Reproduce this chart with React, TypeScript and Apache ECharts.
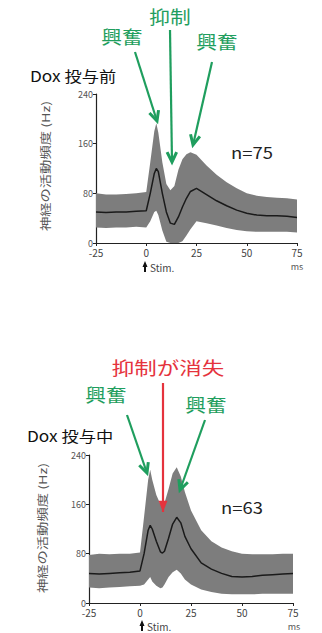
import React, { useEffect, useRef } from "react";
import * as echarts from "echarts";

// ---- Data: before Dox ----
const timeBefore = [-25, -20, -15, -10, -5, 0, 2, 4, 5, 6, 8, 10, 12, 14, 16, 18, 20, 22, 25, 30, 35, 40, 45, 50, 55, 60, 65, 70, 75];
const meanBefore = [50, 49, 50, 50, 51, 52, 80, 112, 120, 115, 80, 50, 32, 30, 42, 58, 72, 83, 88, 78, 68, 60, 53, 48, 45, 44, 44, 43, 41];
const upperBefore = [80, 78, 78, 79, 80, 82, 130, 180, 193, 178, 130, 95, 85, 92, 118, 135, 143, 146, 142, 125, 110, 98, 88, 80, 76, 74, 73, 72, 70];
const lowerBefore = [25, 24, 25, 25, 26, 25, 35, 50, 52, 45, 20, 2, 0, 0, 0, 3, 12, 22, 35, 32, 28, 24, 21, 19, 18, 18, 18, 18, 17];

// ---- Data: during Dox ----
const timeDuring = [-25, -20, -15, -10, -5, 0, 2, 4, 5, 6, 8, 10, 11, 12, 14, 16, 18, 20, 22, 25, 30, 35, 40, 45, 50, 55, 60, 65, 70, 75];
const meanDuring = [48, 47, 48, 49, 50, 52, 80, 118, 126, 120, 100, 83, 81, 84, 105, 128, 139, 130, 108, 88, 65, 55, 48, 43, 42, 43, 45, 46, 47, 48];
const upperDuring = [78, 80, 79, 80, 80, 82, 140, 200, 216, 200, 175, 160, 157, 162, 185, 210, 220, 205, 180, 150, 118, 100, 90, 84, 80, 79, 79, 79, 80, 80];
const lowerDuring = [25, 24, 25, 26, 27, 28, 30, 38, 42, 35, 28, 24, 25, 30, 42, 50, 54, 48, 38, 30, 22, 18, 15, 14, 14, 14, 15, 15, 15, 15];

const xTicks = { min: -25, max: 75, interval: 25 };
const yTicks = { min: 0, max: 240, interval: 80 };

const GREEN = "#1f9e5e";
const RED = "#e5333d";
const FONT = "'Noto Sans CJK JP', 'Noto Sans', sans-serif";

function pairs(t: number[], v: number[]) {
  return t.map((x, i) => [x, v[i]]);
}

function bandSeries(idx: number, t: number[], mean: number[], up: number[], lo: number[]) {
  return [
    {
      type: "custom", xAxisIndex: idx, yAxisIndex: idx, silent: true,
      data: t.map((x, i) => [x, lo[i], up[i]]),
      encode: { x: 0, y: [1, 2] },
      renderItem: (params: any, api: any) => {
        if (params.dataIndex !== 0) return null;
        const top = t.map((x, i) => api.coord([x, up[i]]));
        const bot = t.map((x, i) => api.coord([x, lo[i]])).reverse();
        return { type: "polygon", shape: { points: [...top, ...bot] }, style: { fill: "#7d7d7d" } };
      },
      z: 1,
    },
    {
      type: "line", xAxisIndex: idx, yAxisIndex: idx, symbol: "none", silent: true, z: 3,
      lineStyle: { color: "#1a1a1a", width: 1.5 }, data: pairs(t, mean),
    },
  ];
}

function axisX(gridIndex: number) {
  return {
    type: "value", gridIndex, ...xTicks,
    axisLine: { onZero: false, lineStyle: { color: "#222", width: 1.2 } },
    axisTick: { show: true, length: 3, lineStyle: { color: "#222" } },
    axisLabel: { fontSize: 10, color: "#444", margin: 4, fontFamily: FONT },
    splitLine: { show: false },
  };
}
function axisY(gridIndex: number) {
  return {
    type: "value", gridIndex, ...yTicks,
    axisLine: { show: true, onZero: false, lineStyle: { color: "#222", width: 1.2 } },
    axisTick: { show: true, length: 3, lineStyle: { color: "#222" } },
    axisLabel: { fontSize: 9, color: "#555", margin: 3, fontFamily: FONT },
    splitLine: { show: false },
  };
}

function arrow(x1: number, y1: number, x2: number, y2: number, color: string, filled = false) {
  const ang = Math.atan2(y2 - y1, x2 - x1);
  const L = filled ? 12 : 11;
  const W = filled ? 0.38 : 0.45;
  const p1 = [x2 - L * Math.cos(ang - W), y2 - L * Math.sin(ang - W)];
  const p2 = [x2 - L * Math.cos(ang + W), y2 - L * Math.sin(ang + W)];
  const items: any[] = [
    { type: "line", shape: { x1, y1, x2, y2 }, style: { stroke: color, lineWidth: 2.2 }, silent: true, z: 10 },
  ];
  if (filled) {
    items.push({ type: "polygon", shape: { points: [p1, [x2, y2], p2] }, style: { fill: color }, silent: true, z: 10 });
  } else {
    items.push({ type: "polyline", shape: { points: [p1, [x2, y2], p2] }, style: { stroke: color, lineWidth: 3, fill: null }, silent: true, z: 10 });
  }
  return items;
}

function txt(text: string, x: number, y: number, size: number, color: string, opts: any = {}) {
  return {
    type: "text", x, y, silent: true, scaleX: opts.scaleX ?? 1, rotation: opts.rotation ?? 0, z: 10,
    style: {
      text, fill: color, fontSize: size, fontFamily: FONT, fontWeight: opts.weight ?? "normal",
      textAlign: opts.align ?? "center", textVerticalAlign: "middle",
    },
  };
}

function stimMark(x: number, y: number) {
  return [
    { type: "polygon", shape: { points: [[x, y - 6], [x - 2.5, y], [x - 1, y], [x - 1, y + 5], [x + 1, y + 5], [x + 1, y], [x + 2.5, y]] }, style: { fill: "#111" }, silent: true },
    txt("Stim.", x + 5, y, 10, "#444", { align: "left" }),
  ];
}

export default function App() {
  const ref = useRef<HTMLDivElement>(null);
  useEffect(() => {
    if (!ref.current) return;
    const chart = echarts.init(ref.current, null, { renderer: "svg" });
    const graphic: any[] = [
      // top panel
      txt("Dox 投与前", 30, 76, 15, "#111", { align: "left", scaleX: 1.15 }),
      txt("興奮", 122, 37, 18, GREEN, { scaleX: 1.15 }),
      txt("抑制", 170, 17, 18, GREEN, { scaleX: 1.15 }),
      txt("興奮", 217, 42, 18, GREEN, { scaleX: 1.15 }),
      ...arrow(135, 52, 157, 121, GREEN),
      ...arrow(170, 30, 172, 162, GREEN),
      ...arrow(212, 62, 193, 145, GREEN),
      txt("n=75", 252, 152, 16, "#222", { scaleX: 1.15 }),
      txt("神経の活動頻度 (Hz)", 45, 166, 11, "#555", { rotation: Math.PI / 2, scaleX: 1.3 }),
      ...stimMark(145, 267),
      txt("ms", 297, 266, 9, "#555"),
      // bottom panel
      txt("Dox 投与中", 27, 436, 15, "#111", { align: "left", scaleX: 1.15 }),
      txt("抑制が消失", 168, 367, 18, RED, { scaleX: 1.25 }),
      txt("興奮", 106, 395, 18, GREEN, { scaleX: 1.15 }),
      txt("興奮", 206, 405, 18, GREEN, { scaleX: 1.15 }),
      ...arrow(163, 383, 163, 512, RED, true),
      ...arrow(127, 415, 147, 473, GREEN),
      ...arrow(205, 420, 180, 490, GREEN),
      txt("n=63", 242, 507, 16, "#222", { scaleX: 1.15 }),
      txt("神経の活動頻度 (Hz)", 42, 528, 11, "#555", { rotation: Math.PI / 2, scaleX: 1.3 }),
      ...stimMark(142, 626),
      txt("ms", 294, 626, 9, "#555"),
    ];
    chart.setOption({
      animation: false,
      backgroundColor: "#fff",
      grid: [
        { left: 96, top: 94, width: 201, height: 149 },
        { left: 89, top: 455, width: 204, height: 148 },
      ],
      xAxis: [axisX(0), axisX(1)],
      yAxis: [axisY(0), axisY(1)],
      series: [
        ...bandSeries(0, timeBefore, meanBefore, upperBefore, lowerBefore),
        ...bandSeries(1, timeDuring, meanDuring, upperDuring, lowerDuring),
      ],
      graphic,
    });
    return () => chart.dispose();
  }, []);
  return <div ref={ref} style={{ position: "fixed", left: 0, top: 0, width: 322, height: 633 }} />;
}
